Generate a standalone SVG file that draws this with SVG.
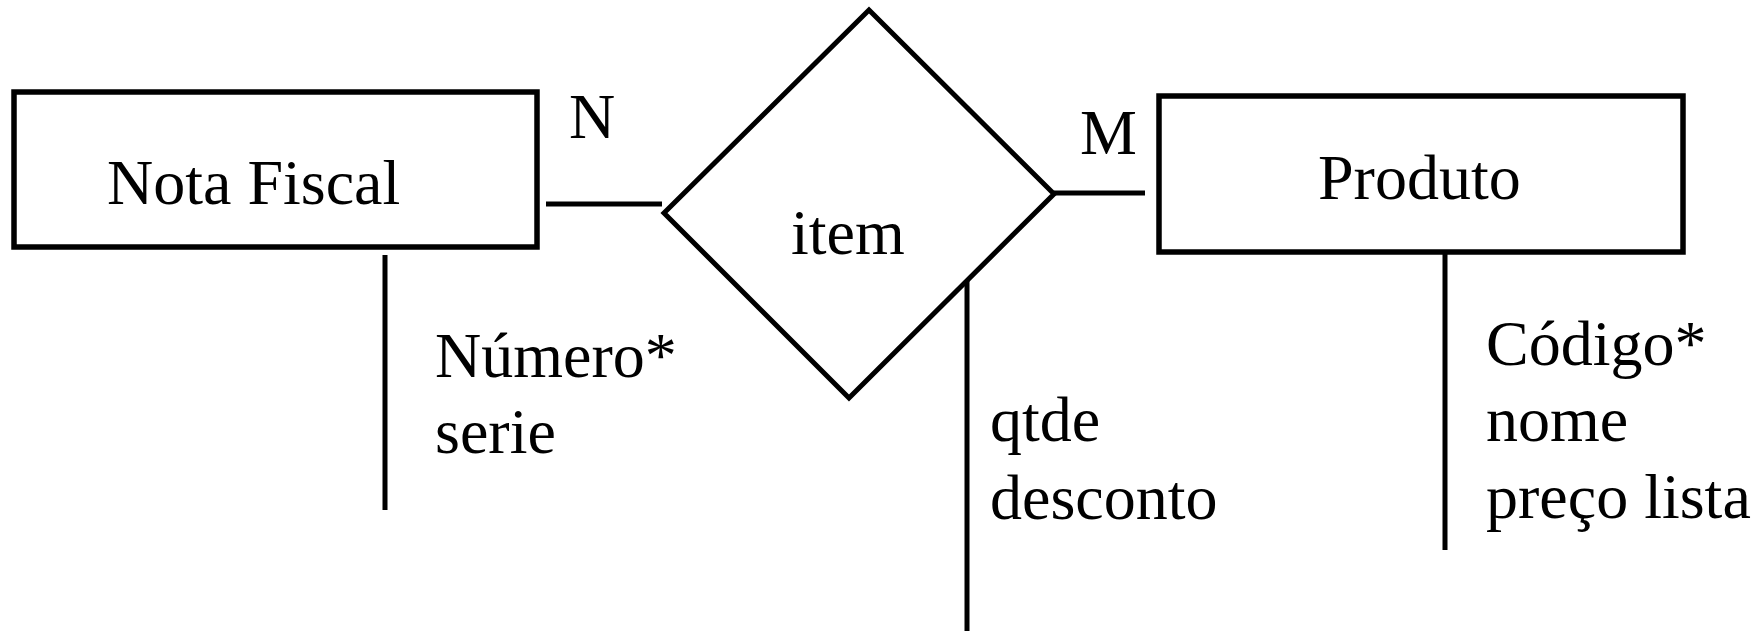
<svg xmlns="http://www.w3.org/2000/svg" width="1759" height="631" viewBox="0 0 1759 631">
<style>
.box{fill:#fff;stroke:#000;stroke-width:5.5}
.dia{fill:#fff;stroke:#000;stroke-width:5}
.ln{stroke:#000;stroke-width:5;fill:none}
text{font-family:"Liberation Serif","Times New Roman",serif;font-size:64px;fill:#000}
</style>
<rect width="1759" height="631" fill="#fff"/>
<g id="connectors">
<line class="ln" x1="546" y1="204" x2="662" y2="204"/>
<line class="ln" x1="1054" y1="193" x2="1145" y2="193"/>
<line class="ln" x1="385" y1="255" x2="385" y2="510"/>
<line class="ln" x1="967" y1="275" x2="967" y2="631"/>
<line class="ln" x1="1445" y1="254" x2="1445" y2="550"/>
<text x="569" y="138">N</text>
<text x="1080" y="154">M</text>
</g>
<g id="nota-fiscal">
<rect class="box" x="14" y="92" width="523" height="155"/>
<text x="107" y="204">Nota Fiscal</text>
</g>
<g id="item">
<polygon class="dia" points="869,10 1054,194 849,398 664,213"/>
<text x="791" y="254">item</text>
</g>
<g id="produto">
<rect class="box" x="1159" y="96" width="524" height="156"/>
<text x="1318" y="199">Produto</text>
</g>
<g id="attr-nota">
<text x="435" y="377">Número*</text>
<text x="435" y="453">serie</text>
</g>
<g id="attr-item">
<text x="990" y="441">qtde</text>
<text x="990" y="519">desconto</text>
</g>
<g id="attr-produto">
<text x="1486" y="365">Código*</text>
<text x="1486" y="441">nome</text>
<text x="1486" y="518">preço lista</text>
</g>
</svg>
